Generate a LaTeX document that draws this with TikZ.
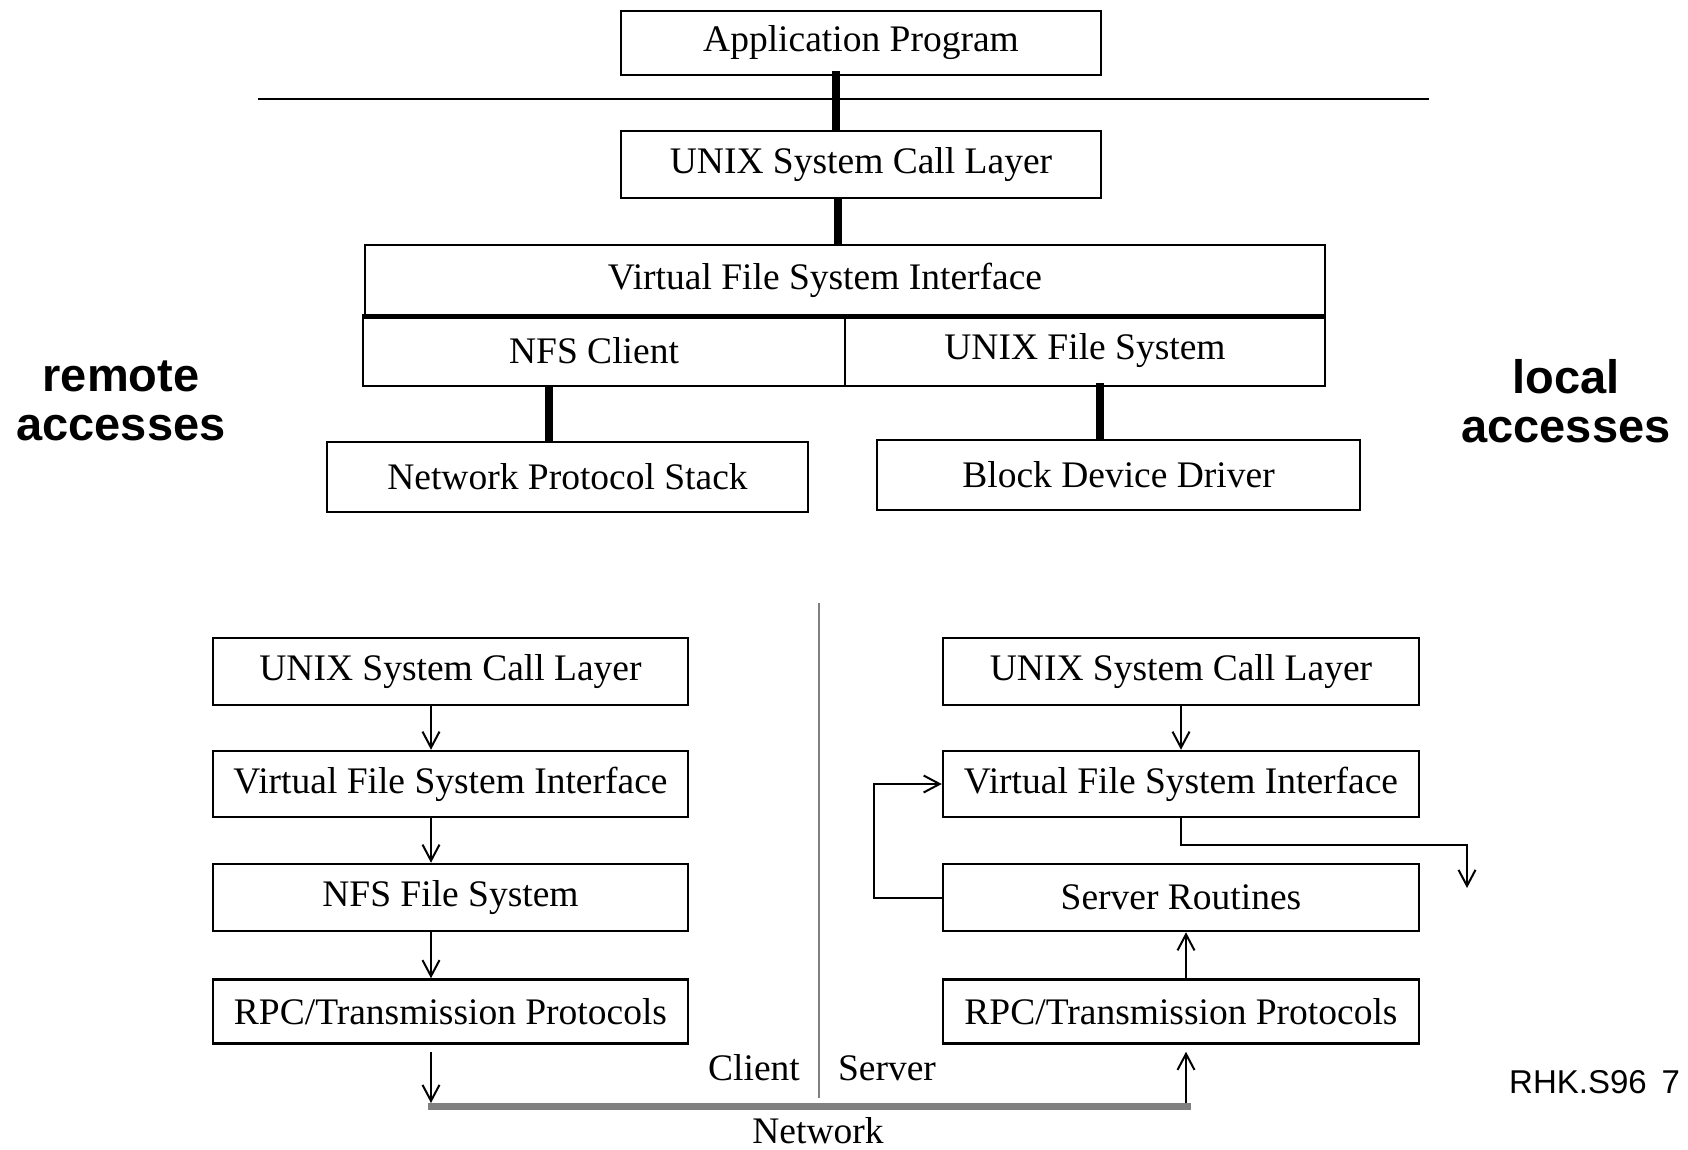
\documentclass[tikz,border=0pt]{standalone}
\usepackage{fontspec}
\setmainfont{Liberation Serif}
\newfontfamily\arialfont{Liberation Sans}
\usetikzlibrary{arrows.meta}
\begin{document}
\begin{tikzpicture}[x=1pt,y=-1pt,
  box/.style={draw, line width=2.5, inner sep=0, align=center,
    font=\fontsize{37.5}{45}\selectfont},
  thick link/.style={line width=8},
  arr/.style={line width=2, -{Straight Barb[length=16,width=17,line width=2]}},
  side/.style={font=\arialfont\bfseries\fontsize{47}{48.5}\selectfont, align=center, inner sep=0},
  lbl/.style={font=\fontsize{37.5}{45}\selectfont, inner sep=0}]
\useasboundingbox (0,0) rectangle (1688,1150);
% ---- top part ----
\node[box, minimum width=480, minimum height=64] (app) at (861,43) {Application Program};
\node[box, minimum width=480, minimum height=67] (scl) at (861,164.5) {UNIX System Call Layer};
\node[box, minimum width=960, minimum height=70] (vfs) at (845,280) {Virtual File System Interface\hspace{40pt}};
\node[box, minimum width=482, minimum height=71] (nfsc) at (604,350.5) {NFS Client\hspace{20pt}};
\node[box, minimum width=480, minimum height=71] (ufs) at (1085,350.5) {UNIX File System};
\node[box, minimum width=481, minimum height=70] (nps) at (567.5,477) {Network Protocol Stack};
\node[box, minimum width=483, minimum height=70] (bdd) at (1118.5,475) {Block Device Driver};
\draw[line width=5] (vfs.south west) -- (vfs.south east);
\coordinate (hl) at (258,99);
\coordinate (hr) at (1429,99);
\draw[line width=2.5] (hl) -- (hr);
\draw[thick link] ([xshift=-25,yshift=5]app.south) -- ([xshift=-25]scl.north);
\draw[thick link] ([xshift=-23]scl.south) -- ([xshift=-7]vfs.north);
\draw[thick link] ([xshift=-55]nfsc.south) -- ([xshift=-18.5]nps.north);
\draw[thick link] ([xshift=15,yshift=4]ufs.south) -- ([xshift=-18.5]bdd.north);
\node[side] (remote) at (121,401) {remote\\accesses};
\node[side] (local) at (1566,401) {local\\accesses};
% ---- bottom part ----
\node[box, minimum width=475, minimum height=67] (sclL) at (450.5,671.5) {UNIX System Call Layer};
\node[box, minimum width=475, minimum height=66] (vfsL) at (450.5,784) {Virtual File System Interface};
\node[box, minimum width=475, minimum height=67] (nfsL) at (450.5,897.5) {NFS File System};
\node[box, minimum width=475, minimum height=64] (rpcL) at (450.5,1011.5) {RPC/Transmission Protocols};
\node[box, minimum width=476, minimum height=67] (sclR) at (1181,671.5) {UNIX System Call Layer};
\node[box, minimum width=476, minimum height=66] (vfsR) at (1181,784) {Virtual File System Interface};
\node[box, minimum width=476, minimum height=67] (srvR) at (1181,897.5) {Server Routines};
\node[box, minimum width=476, minimum height=64] (rpcR) at (1181,1011.5) {RPC/Transmission Protocols};
% divider and network
\coordinate (dvt) at (819,603);
\coordinate (dvb) at (819,1098);
\draw[line width=2.5, gray] (dvt) -- (dvb);
\coordinate (netL) at (428,1106);
\coordinate (netR) at (1191,1106);
\draw[line width=7, color={rgb,255:red,128;green,128;blue,128}] (netL) -- (netR);
\coordinate (netA) at (431,1103);
\coordinate (netB) at (1186,1103);
% client arrows
\draw[arr] ([xshift=-19.5]sclL.south) -- ([xshift=-19.5]vfsL.north);
\draw[arr] ([xshift=-19.5]vfsL.south) -- ([xshift=-19.5]nfsL.north);
\draw[arr] ([xshift=-19.5]nfsL.south) -- ([xshift=-19.5]rpcL.north);
\draw[arr] ([xshift=-19.5,yshift=-7]rpcL.south) -- (netA);
% server arrows
\draw[arr] (sclR.south) -- (vfsR.north);
\draw[arr] ([xshift=5]rpcR.north) -- ([xshift=5]srvR.south);
\draw[arr] (netB) -- ([xshift=5,yshift=-7]rpcR.south);
\draw[arr] (srvR.west) -- ++(-68,0) |- (vfsR.west);
\coordinate (outR) at (1467,888);
\draw[arr] (vfsR.south) |- (1467,845) -- (outR);
% labels
\node[lbl] (client) at (754,1068) {Client};
\node[lbl] (server) at (887,1068) {Server};
\node[lbl] (network) at (818,1131) {Network};
\node[font=\arialfont\fontsize{33}{40}\selectfont, inner sep=0, anchor=base west] (rhk) at (1509,1093) {RHK.S96\hspace{0.45em}7};
\end{tikzpicture}
\end{document}
